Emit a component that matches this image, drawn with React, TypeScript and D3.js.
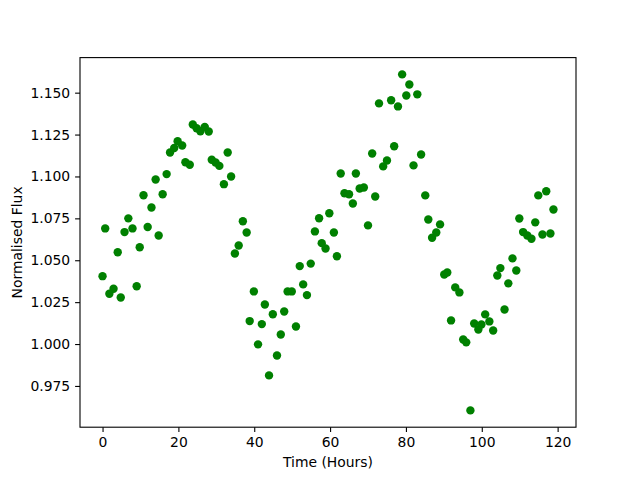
import React, { useEffect, useRef } from "react";
import * as d3 from "d3";

// time in hours
const hours = [
  0.0, 0.7, 1.8, 2.9, 4.0, 4.8, 5.8, 6.8, 7.9, 9.0,
  9.8, 10.8, 11.9, 12.9, 14.0, 14.8, 15.85, 16.9, 17.8, 18.9,
  19.8, 21.0, 21.85, 23.0, 23.8, 24.8, 25.8, 26.95, 28.0, 28.8,
  29.8, 30.8, 32.0, 33.0, 33.9, 34.9, 35.9, 37.0, 38.0, 38.8,
  39.9, 41.0, 42.0, 42.8, 43.9, 44.9, 46.0, 47.0, 47.9, 48.8,
  49.9, 51.0, 52.0, 52.9, 53.9, 54.9, 56.0, 57.1, 57.8, 58.8,
  59.8, 61.0, 61.8, 62.8, 63.8, 65.0, 66.0, 66.8, 67.8, 68.9,
  70.0, 71.1, 71.9, 72.9, 74.0, 75.0, 76.1, 76.9, 77.9, 79.0,
  80.1, 80.9, 82.0, 83.0, 84.0, 85.1, 85.9, 86.9, 88.0, 89.0,
  90.1, 90.9, 91.9, 93.0, 94.1, 95.1, 95.9, 97.0, 98.0, 99.1,
  99.9, 100.9, 102.0, 103.0, 104.1, 104.9, 106.0, 107.0, 108.1, 109.1,
  109.9, 110.9, 112.0, 113.1, 114.1, 114.9, 116.0, 117.0, 118.1, 118.9,
];

// normalised flux
const flux = [
  1.0405, 1.069, 1.030, 1.033, 1.0548, 1.0278, 1.0668, 1.075, 1.069, 1.0345,
  1.0578, 1.0888, 1.0698, 1.0815, 1.0982, 1.0648, 1.0894, 1.1014, 1.1143, 1.117,
  1.121, 1.1185, 1.1085, 1.107, 1.131, 1.1288, 1.127, 1.1296, 1.1268, 1.110,
  1.1083, 1.1063, 1.0954, 1.1143, 1.100, 1.054, 1.0588, 1.0733, 1.0666, 1.0137,
  1.0314, 0.9998, 1.0119, 1.0236, 0.9813, 1.0178, 0.9932, 1.0057, 1.0194, 1.0314,
  1.0314, 1.0105, 1.0465, 1.0356, 1.0292, 1.048, 1.0672, 1.0751, 1.0602, 1.057,
  1.078, 1.0666, 1.0524, 1.1018, 1.090, 1.0894, 1.0839, 1.1018, 1.0928, 1.0934,
  1.0708, 1.1137, 1.088, 1.1436, 1.106, 1.1095, 1.1455, 1.118, 1.1418, 1.1609,
  1.1483, 1.1549, 1.1066, 1.149, 1.1131, 1.0887, 1.0743, 1.0634, 1.0666, 1.0714,
  1.0415, 1.0427, 1.0141, 1.0338, 1.0308, 1.0027, 1.001, 0.9604, 1.0123, 1.0087,
  1.0117, 1.0177, 1.0135, 1.0081, 1.0409, 1.0453, 1.0206, 1.0362, 1.0511, 1.0439,
  1.0749, 1.0668, 1.0648, 1.0628, 1.0726, 1.0887, 1.0654, 1.0912, 1.066, 1.0803,
];

const xTicks = [0, 20, 40, 60, 80, 100, 120];
const yTicks = [0.975, 1.0, 1.025, 1.05, 1.075, 1.1, 1.125, 1.15];

const W = 640;
const H = 480;
const FONT = "DejaVu Sans";

export default function App() {
  const ref = useRef<SVGSVGElement>(null);

  useEffect(() => {
    const svg = d3.select(ref.current);
    svg.selectAll("*").remove();

    const left = 80, right = 576, top = 57.6, bottom = 427.2;

    const pad = (ext: [number, number]) => {
      const m = (ext[1] - ext[0]) * 0.05;
      return [ext[0] - m, ext[1] + m];
    };

    const x = d3.scaleLinear()
      .domain(pad(d3.extent(hours) as [number, number]))
      .range([left, right]);
    const y = d3.scaleLinear()
      .domain(pad(d3.extent(flux) as [number, number]))
      .range([bottom, top]);

    const data = hours.map((h, i) => ({ h: h, f: flux[i] }));

    svg.append("rect")
      .attr("width", W).attr("height", H).attr("fill", "white");

    svg.append("g")
      .selectAll("circle")
      .data(data)
      .join("circle")
      .attr("cx", d => x(d.h))
      .attr("cy", d => y(d.f))
      .attr("r", 4.2)
      .attr("fill", "#008000");

    const xAxis = d3.axisBottom(x)
      .tickValues(xTicks)
      .tickFormat(d3.format("d"))
      .tickSize(4.9)
      .tickPadding(4.9)
      .tickSizeOuter(0);
    const gx = svg.append("g")
      .attr("transform", `translate(0,${bottom})`)
      .call(xAxis);

    const yAxis = d3.axisLeft(y)
      .tickValues(yTicks)
      .tickFormat(d3.format(".3f"))
      .tickSize(4.9)
      .tickPadding(4.9)
      .tickSizeOuter(0);
    const gy = svg.append("g")
      .attr("transform", `translate(${left},0)`)
      .call(yAxis);

    [gx, gy].forEach(g => {
      g.select(".domain").remove();
      g.selectAll("line").attr("stroke", "#000").attr("stroke-width", 1.1);
      g.selectAll("text")
        .attr("fill", "#000")
        .style("font-family", FONT)
        .style("font-size", "13.9px");
    });

    // frame
    svg.append("rect")
      .attr("x", left).attr("y", top)
      .attr("width", right - left).attr("height", bottom - top)
      .attr("fill", "none")
      .attr("stroke", "#000")
      .attr("stroke-width", 1.1);

    svg.append("text")
      .attr("x", (left + right) / 2)
      .attr("y", 467)
      .attr("text-anchor", "middle")
      .style("font-family", FONT)
      .style("font-size", "13.9px")
      .text("Time (Hours)");

    svg.append("text")
      .attr("transform", `translate(21.5,${(top + bottom) / 2}) rotate(-90)`)
      .attr("text-anchor", "middle")
      .style("font-family", FONT)
      .style("font-size", "13.9px")
      .text("Normalised Flux");
  }, []);

  return (
    <svg
      ref={ref}
      width={W}
      height={H}
      style={{ position: "absolute", left: 0, top: 0 }}
    />
  );
}
